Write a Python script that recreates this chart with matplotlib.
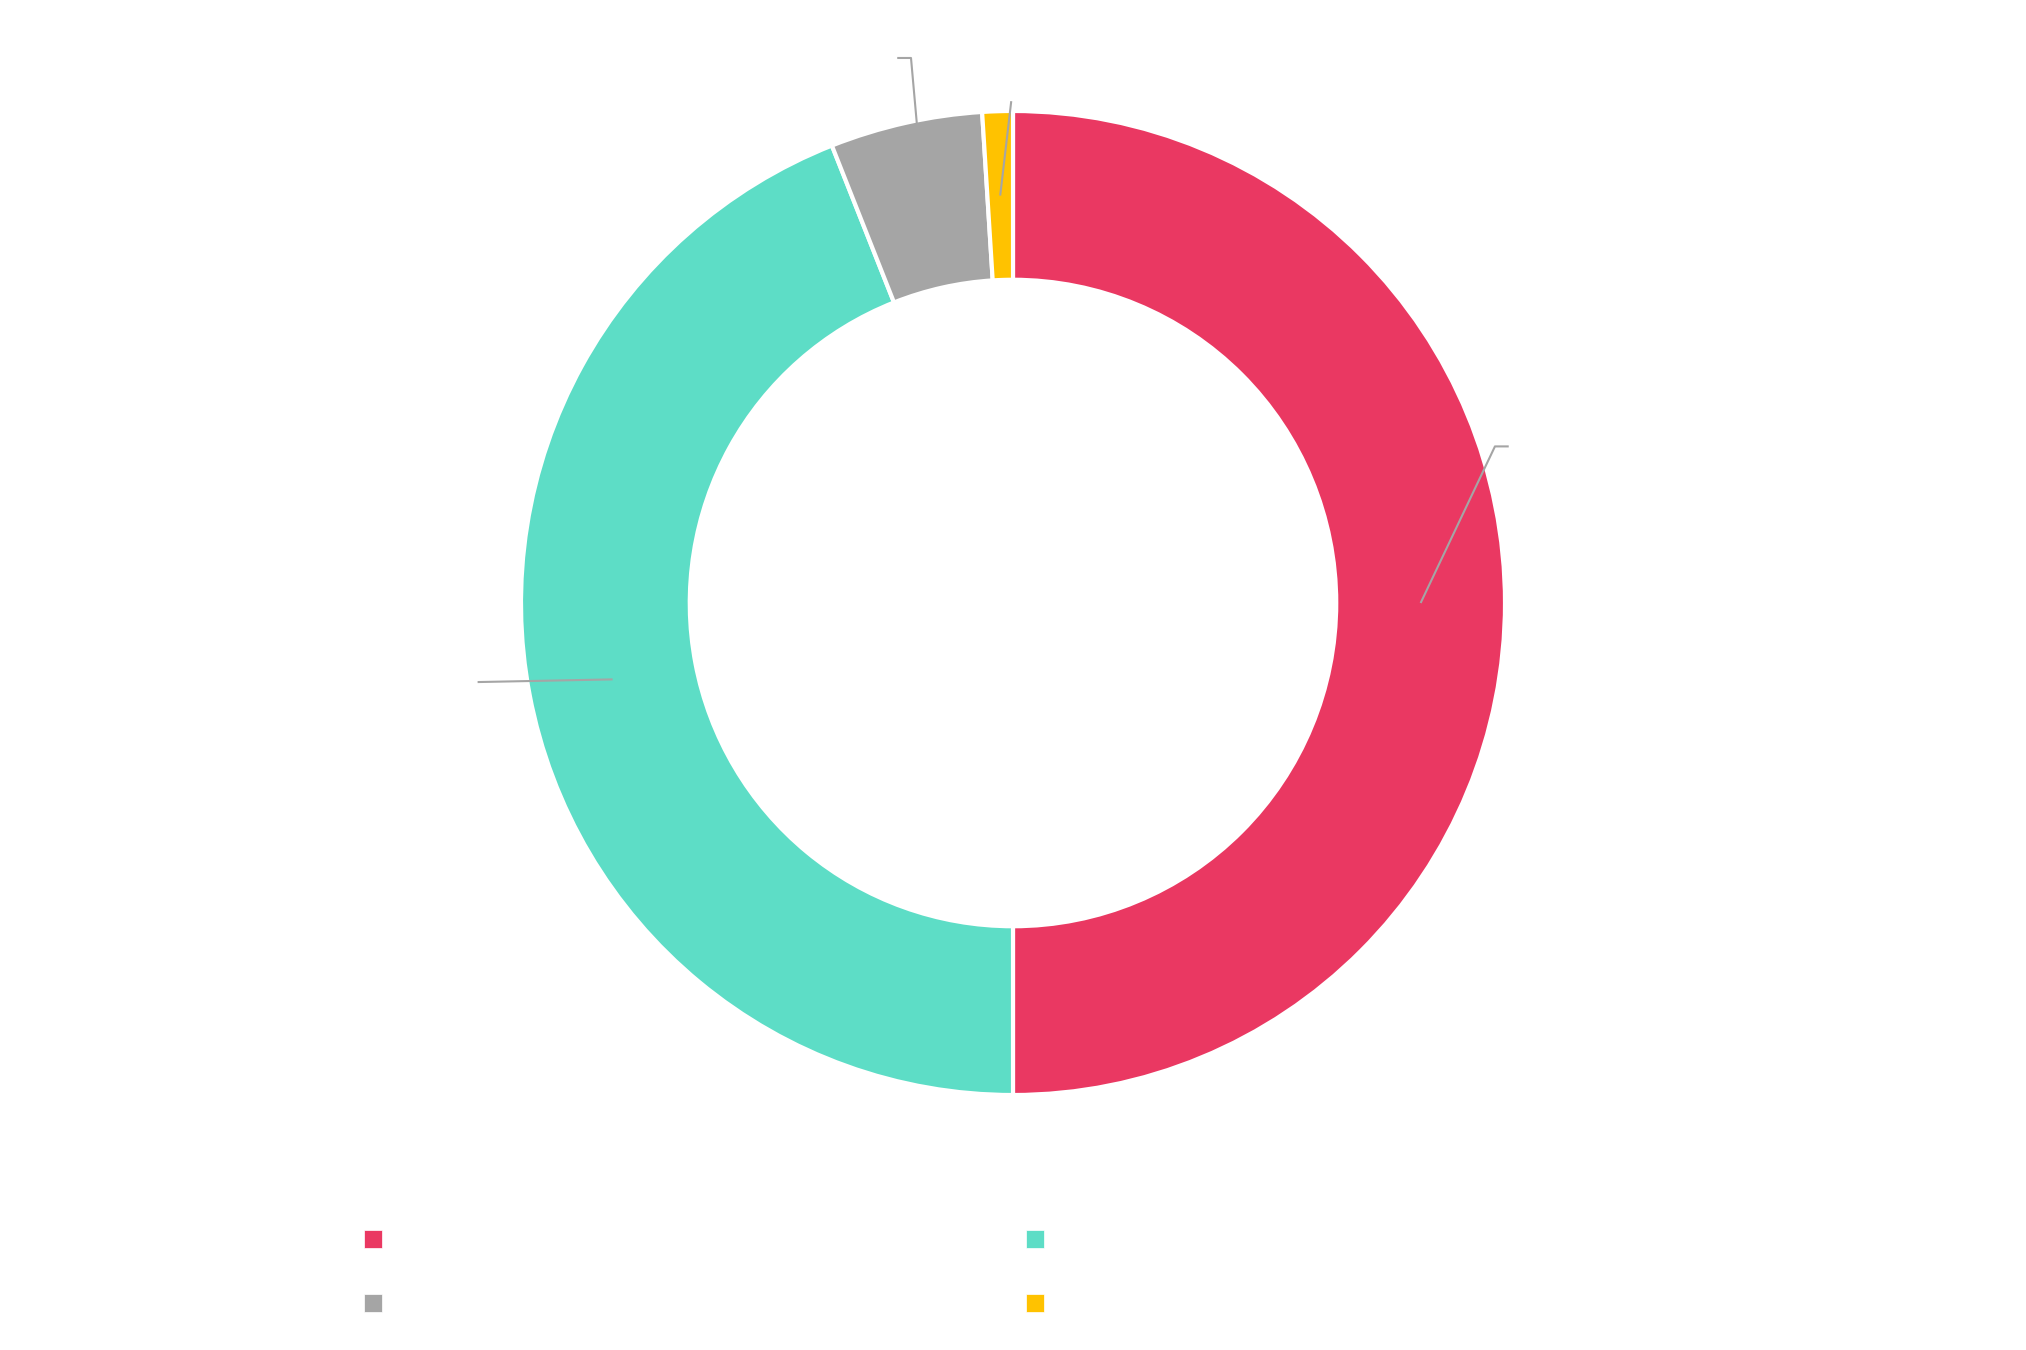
import numpy as np
import matplotlib
matplotlib.use("Agg")
import matplotlib.pyplot as plt

# donut data (share in %), clockwise from 12 o'clock
shares = [50, 44, 5, 1]
colors = ["#EA3862", "#5DDDC6", "#A5A5A5", "#FFC200"]
# leader line end points (radius, math angle in deg) and horizontal tail (+/-)
label_r = [1.03, 1.10, 1.127, 1.02]
label_ang = [18.0, 188.4, 100.6, 90.2]
tail = [0.028, 0.0, -0.028, 0.0]

fig = plt.figure(figsize=(20.26, 13.5), dpi=100)
W, H = 2026, 1350
cx, cy, R = 1013, 747, 492
half = 1.2 * R
ax = fig.add_axes([(cx - half) / W, (cy - half) / H, 2 * half / W, 2 * half / H])

inner = 0.657
wedges, _ = ax.pie(shares, colors=colors, startangle=90, counterclock=False,
                   radius=1.0,
                   wedgeprops=dict(width=1 - inner, edgecolor="white", linewidth=3))

mid_r = (1 + inner) / 2
for w, r, a, t in zip(wedges, label_r, label_ang, tail):
    m = np.deg2rad((w.theta1 + w.theta2) / 2)
    x0, y0 = mid_r * np.cos(m), mid_r * np.sin(m)
    x1, y1 = r * np.cos(np.deg2rad(a)), r * np.sin(np.deg2rad(a))
    xs = [x0, x1, x1 + t]
    ys = [y0, y1, y1]
    ax.plot(xs, ys, color="#A5A5A5", lw=1.5, zorder=5, solid_capstyle="butt")

ax.set_xlim(-1.2, 1.2)
ax.set_ylim(-1.2, 1.2)
ax.axis("off")

# legend markers (2 columns)
lax = fig.add_axes([0, 0, 1, 1])
lax.set_xlim(0, W)
lax.set_ylim(H, 0)
lax.axis("off")
leg_x = [373, 1035, 373, 1035]
leg_y = [1239, 1239, 1303, 1303]
for x, y, c in zip(leg_x, leg_y, colors):
    lax.scatter([x], [y], marker="s", s=150, color=c, edgecolors="white", linewidths=0.5)

fig.savefig("out.png", dpi=100, facecolor="white")
